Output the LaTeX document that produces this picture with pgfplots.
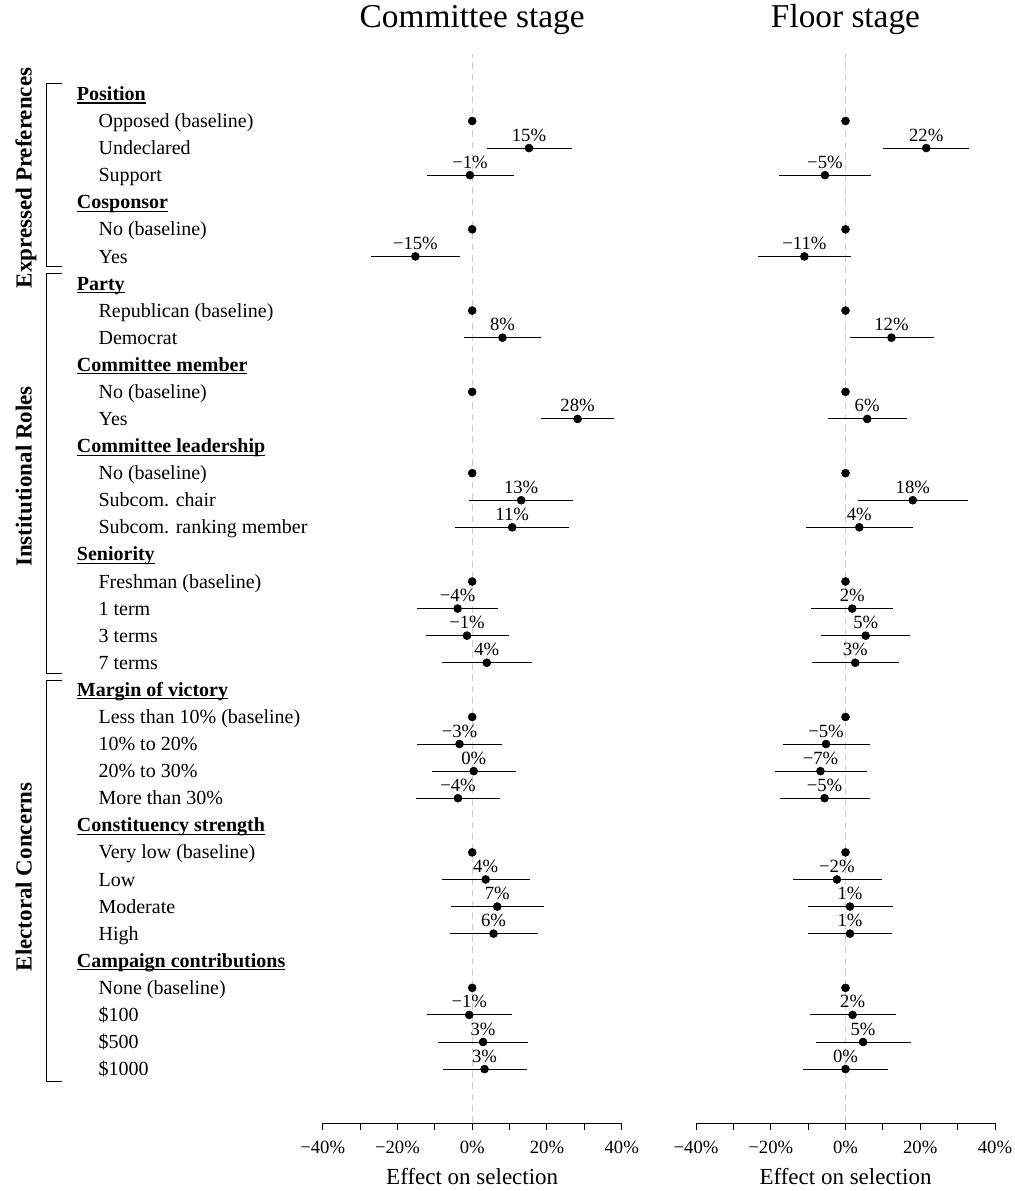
\documentclass[border=0pt]{standalone}
\usepackage{fontspec}
\setmainfont{Liberation Serif}
\usepackage{pgfplots}
\usepackage{pgfplotstable}
\pgfplotsset{compat=1.18}

% committee stage: estimate, row (negative), error plus, error minus, label
\pgfplotstableread{
x y ep em lab
15.2 -3 11.5 11.3 15
-0.6 -4 11.7 11.6 −1
-15.2 -7 11.8 11.8 −15
8.1 -10 10.3 10.2 8
28.2 -13 9.8 9.8 28
13.1 -16 14.0 13.9 13
10.7 -17 15.2 15.3 11
-3.9 -20 10.8 10.9 −4
-1.4 -21 11.2 10.9 −1
3.9 -22 12.0 12.0 4
-3.4 -25 11.3 11.4 −3
0.4 -26 11.3 11.2 0
-3.8 -27 11.3 11.2 −4
3.6 -30 11.8 11.7 4
6.7 -31 12.5 12.4 7
5.7 -32 11.9 11.7 6
-0.8 -35 11.5 11.4 −1
2.9 -36 12.1 12.0 3
3.3 -37 11.3 11.2 3
}\comm

% floor stage
\pgfplotstableread{
x y ep em lab
21.6 -3 11.5 11.5 22
-5.5 -4 12.4 12.3 −5
-11.0 -7 12.6 12.4 −11
12.3 -10 11.3 11.2 12
5.8 -13 10.6 10.6 6
18.0 -16 14.8 14.7 18
3.7 -17 14.3 14.3 4
1.8 -20 11.0 11.0 2
5.4 -21 11.9 12.0 5
2.6 -22 11.6 11.6 3
-5.2 -25 11.7 11.5 −5
-6.7 -26 12.5 12.2 −7
-5.6 -27 12.1 11.8 −5
-2.3 -30 12.0 11.8 −2
1.2 -31 11.5 11.3 1
1.2 -32 11.3 11.3 1
1.9 -35 11.5 11.5 2
4.7 -36 12.7 12.5 5
0.0 -37 11.5 11.4 0
}\floor

\pgfplotstableread{
x y
0 -2
0 -6
0 -9
0 -12
0 -15
0 -19
0 -24
0 -29
0 -34
}\base

\newcommand\ul[1]{\sbox0{\bfseries #1}\rlap{\rule[-2.3pt]{\wd0}{0.8pt}}\usebox0}

\pgfplotsset{
  stagestyle/.style={
    scale only axis, width=224.25pt, height=801.4pt, anchor=south west,
    xmin=-40, xmax=40, ymin=-38.99, ymax=0.455,
    axis x line*=bottom, axis y line=none,
    x axis line style={-, line width=0.75pt, black},
    xtick={-40,-20,0,20,40}, minor xtick={-30,-10,10,30},
    xticklabels={−40\%,−20\%,0\%,20\%,40\%},
    tick align=outside, major tick length=5.25pt, minor tick length=5.25pt,
    tick style={black, line width=0.75pt},
    minor tick style={black, line width=0.75pt},
    xticklabel style={font=\fontsize{14}{16}\selectfont, anchor=base, yshift=-17.5pt},
    ytick=\empty,
    clip=false,
    xlabel={Effect on selection},
    xlabel style={at={(axis description cs:0.5,0)}, anchor=base, yshift=-46.2pt, font=\fontsize{17.25}{20}\selectfont},
    title style={at={(axis description cs:0.5,1)}, anchor=base, yshift=13.9pt, font=\fontsize{25}{30}\selectfont},
  },
  zeroline/.style={draw=black!20, line width=0.75pt, dash pattern=on 5pt off 3.5pt, forget plot},
  basedots/.style={only marks, mark=*, mark size=3pt, black, mark options={fill=black}},
  estdots/.style={only marks, mark=*, mark size=3pt, black, mark options={fill=black},
    point meta=explicit symbolic,
    nodes near coords={\pgfplotspointmeta\%},
    every node near coord/.style={anchor=base, yshift=5.25pt, inner sep=0pt, font=\fontsize{14}{16}\selectfont, black},
    error bars/.cd, x dir=both, x explicit, error mark=none,
    error bar style={line width=0.7pt, black}},
}

\begin{document}
\begin{tikzpicture}
\path[use as bounding box] (0,0) rectangle (760.5pt,-893.25pt);

\begin{axis}[stagestyle, at={(242.03pt,-842.25pt)}, title={Committee stage}]
  \addplot[zeroline] coordinates {(0,-38.99) (0,0.455)};
  \addplot[basedots] table[x=x, y=y] {\base};
  \addplot[estdots] table[x=x, y=y, x error plus=ep, x error minus=em, meta=lab] {\comm};
\end{axis}

\begin{axis}[stagestyle, at={(522pt,-842.25pt)}, title={Floor stage}]
  \addplot[zeroline] coordinates {(0,-38.99) (0,0.455)};
  \addplot[basedots] table[x=x, y=y] {\base};
  \addplot[estdots] table[x=x, y=y, x error plus=ep, x error minus=em, meta=lab] {\floor};
\end{axis}

\begin{scope}[x=0.75pt, y=-0.75pt]
  % headers
  \foreach \r/\t in {1/Position, 5/Cosponsor, 8/Party, 11/{Committee member}, 14/{Committee leadership}, 18/Seniority, 23/{Margin of victory}, 28/{Constituency strength}, 33/{Campaign contributions}}{
    \node[anchor=base west, inner sep=0pt, font=\fontsize{15}{18}\selectfont] at (76.7, {93.9+(\r-1)*27.086+6.6}) {\ul{\t}};
  }
  % items
  \foreach \r/\t in {2/{Opposed (baseline)}, 3/Undeclared, 4/Support, 6/{No (baseline)}, 7/Yes,
     9/{Republican (baseline)}, 10/Democrat, 12/{No (baseline)}, 13/Yes,
     15/{No (baseline)}, 16/{Subcom. chair}, 17/{Subcom. ranking member},
     19/{Freshman (baseline)}, 20/{1 term}, 21/{3 terms}, 22/{7 terms},
     24/{Less than 10\% (baseline)}, 25/{10\% to 20\%}, 26/{20\% to 30\%}, 27/{More than 30\%},
     29/{Very low (baseline)}, 30/Low, 31/Moderate, 32/High,
     34/{None (baseline)}, 35/{\$100}, 36/{\$500}, 37/{\$1000}}{
    \node[anchor=base west, inner sep=0pt, font=\fontsize{15}{18}\selectfont] at (98.3, {93.9+(\r-1)*27.086+6.6}) {\t};
  }
  % brackets
  \draw[line width=0.75pt] (61.7,83.3) -- (46.7,83.3) -- (46.7,266.7) -- (61.7,266.7);
  \draw[line width=0.75pt] (61.7,273.3) -- (46.7,273.3) -- (46.7,673.3) -- (61.7,673.3);
  \draw[line width=0.75pt] (61.7,680) -- (46.7,680) -- (46.7,1081) -- (61.7,1081);
  % group labels
  \node[rotate=90, anchor=base, inner sep=0pt, font=\bfseries\fontsize{17.25}{20}\selectfont] at (31.5,178) {Expressed Preferences};
  \node[rotate=90, anchor=base, inner sep=0pt, font=\bfseries\fontsize{17.25}{20}\selectfont] at (31.5,476.5) {Institutional Roles};
  \node[rotate=90, anchor=base, inner sep=0pt, font=\bfseries\fontsize{17.25}{20}\selectfont] at (31.5,877) {Electoral Concerns};
\end{scope}
\end{tikzpicture}
\end{document}
